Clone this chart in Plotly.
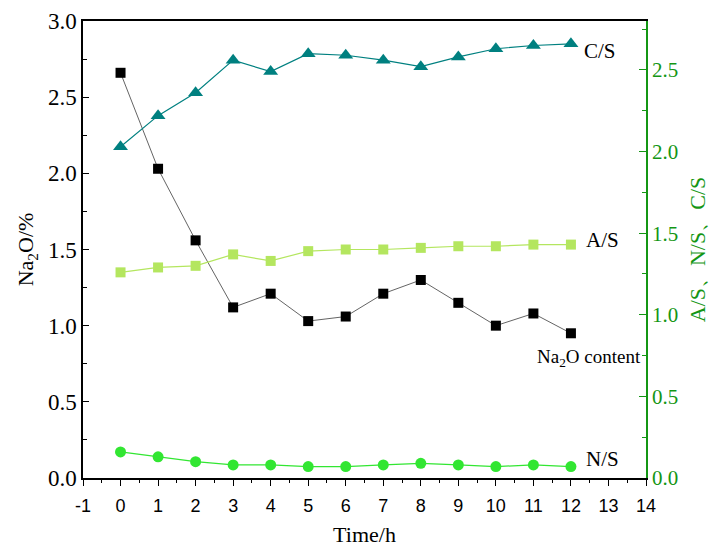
import plotly.graph_objects as go

time_h = [0, 1, 2, 3, 4, 5, 6, 7, 8, 9, 10, 11, 12]
na2o = [2.66, 2.03, 1.56, 1.12, 1.21, 1.03, 1.06, 1.21, 1.30, 1.15, 1.00, 1.08, 0.95]
a_s = [1.26, 1.29, 1.30, 1.37, 1.33, 1.39, 1.40, 1.40, 1.41, 1.42, 1.42, 1.43, 1.43]
c_s = [2.03, 2.22, 2.36, 2.56, 2.49, 2.60, 2.59, 2.56, 2.52, 2.58, 2.63, 2.65, 2.66]
n_s = [0.16, 0.13, 0.10, 0.08, 0.08, 0.07, 0.07, 0.08, 0.09, 0.08, 0.07, 0.08, 0.07]

x_ticks = list(range(-1, 15))
y_ticks = [0.0, 0.5, 1.0, 1.5, 2.0, 2.5, 3.0]
y2_ticks = [0.0, 0.5, 1.0, 1.5, 2.0, 2.5]

SERIF = "Liberation Serif, Times New Roman, serif"
SANS = "Liberation Sans, Arial, sans-serif"
GREEN_AX = "rgb(20,150,20)"

fig = go.Figure()
fig.add_trace(go.Scatter(x=time_h, y=c_s, yaxis="y2", mode="lines+markers",
                         line=dict(color="rgb(0,128,128)", width=1.2),
                         marker=dict(symbol="triangle-up", size=13, color="rgb(0,128,128)"),
                         name="C/S"))
fig.add_trace(go.Scatter(x=time_h, y=a_s, yaxis="y2", mode="lines+markers",
                         line=dict(color="rgb(180,230,95)", width=1.2),
                         marker=dict(symbol="square", size=10, color="rgb(180,230,95)"),
                         name="A/S"))
fig.add_trace(go.Scatter(x=time_h, y=n_s, yaxis="y2", mode="lines+markers",
                         line=dict(color="rgb(50,230,50)", width=1.2),
                         marker=dict(symbol="circle", size=11, color="rgb(50,230,50)"),
                         name="N/S"))
fig.add_trace(go.Scatter(x=time_h, y=na2o, yaxis="y", mode="lines+markers",
                         line=dict(color="rgb(60,60,60)", width=0.8),
                         marker=dict(symbol="square", size=10, color="black"),
                         name="Na2O content"))

labels = [
    (12.3, 2.80, "C/S", 21),
    (12.35, 1.56, "A/S", 21),
    (11.05, 0.79, "Na<sub>2</sub>O content", 19),
    (12.35, 0.125, "N/S", 21),
]
for lx, ly, txt, fs in labels:
    fig.add_annotation(x=lx, y=ly, xref="x", yref="y", text=txt, showarrow=False,
                       xanchor="left", yanchor="middle",
                       font=dict(family=SERIF, size=fs, color="black"))

fig.update_layout(
    width=717, height=547,
    margin=dict(l=83, r=71, t=21, b=69),
    paper_bgcolor="white", plot_bgcolor="white",
    showlegend=False,
    xaxis=dict(range=[-1, 14], tickvals=x_ticks, ticktext=[str(v) for v in x_ticks],
               automargin=False,
               showgrid=False, zeroline=False, showline=True, linecolor="black",
               linewidth=1.5, mirror=True, ticks="outside", ticklen=6, tickwidth=1.2,
               tickcolor="black", ticklabelstandoff=5,
               minor=dict(dtick=0.5, ticks="outside", ticklen=3, tickcolor="black", showgrid=False),
               tickfont=dict(family=SANS, size=18, color="black"),
               title=dict(text="Time/h", font=dict(family=SERIF, size=22, color="black"),
                          standoff=18)),
    yaxis=dict(range=[0, 3], tickvals=y_ticks, ticktext=["%.1f" % v for v in y_ticks],
               automargin=False,
               showgrid=False, zeroline=False, showline=True, linecolor="black",
               linewidth=1.5, ticks="inside", ticklen=6, tickwidth=1.2, tickcolor="black",
               minor=dict(dtick=0.25, ticks="inside", ticklen=4, tickcolor="black", showgrid=False),
               tickfont=dict(family=SERIF, size=23, color="black"),
               title=dict(text="Na<sub>2</sub>O/%", font=dict(family=SERIF, size=22, color="black"),
                          standoff=8)),
    yaxis2=dict(range=[0, 2.8], overlaying="y", side="right", anchor="x",
                automargin=False,
                tickvals=y2_ticks, ticktext=["%.1f" % v for v in y2_ticks],
                showgrid=False, zeroline=False, showline=True, linecolor=GREEN_AX,
                linewidth=1.5, ticks="inside", ticklen=7, tickwidth=1.2, tickcolor=GREEN_AX,
                minor=dict(dtick=0.25, ticks="inside", ticklen=4, tickcolor=GREEN_AX, showgrid=False),
                tickfont=dict(family=SERIF, size=21, color=GREEN_AX),
                title=dict(text="A/S、N/S、C/S", font=dict(family=SERIF, size=22, color=GREEN_AX),
                           standoff=12)),
)

fig.write_html("out.html")
